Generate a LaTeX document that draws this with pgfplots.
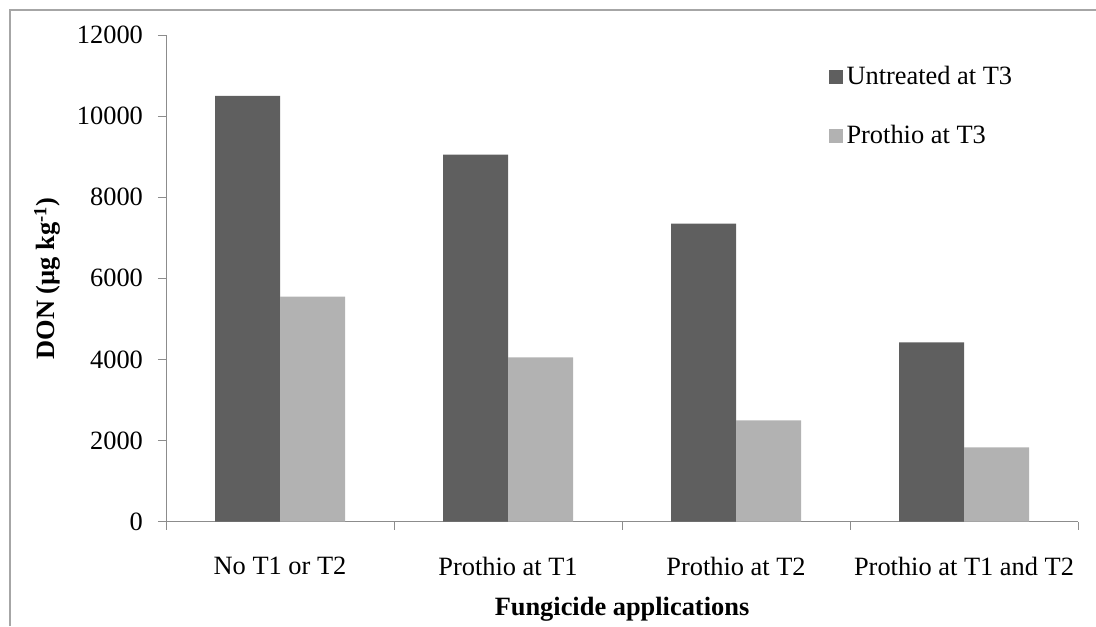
\documentclass[border=0pt]{standalone}
\usepackage{pgfplots}
\pgfplotsset{compat=1.18}
\usepackage{fontspec}
\setmainfont{Liberation Serif}
\definecolor{darkbar}{HTML}{5F5F5F}
\definecolor{lightbar}{HTML}{B2B2B2}
\definecolor{axisgray}{HTML}{8C8C8C}
\definecolor{framegray}{HTML}{A6A6A6}
\begin{document}
\begin{tikzpicture}
\useasboundingbox (0,0) rectangle (548pt,313pt);
% outer frame (cut off on right and bottom)
\draw[framegray, line width=1pt] (5pt,0pt) -- (5pt,308pt) -- (548pt,308pt);
\begin{axis}[
    at={(83pt,52.15pt)}, anchor=south west,
    scale only axis,
    width=456pt, height=243.35pt,
    xmin=-0.5, xmax=3.5,
    ymin=0, ymax=12000,
    axis x line*=bottom, axis y line*=left,
    axis line style={axisgray, -},
    tick style={axisgray},
    tick align=outside,
    xtick={0,1,2,3},
    xticklabels={No T1 or T2, Prothio at T1, Prothio at T2, Prothio at T1 and T2},
    major x tick style={draw=none},
    minor xtick={-0.5,0.5,1.5,2.5,3.5},
    minor tick length=4pt,
    major tick length=4pt,
    ytick={0,2000,...,12000},
    scaled y ticks=false,
    yticklabel style={/pgf/number format/1000 sep={}, xshift=-4pt},
    xticklabel style={yshift=-10pt},
    /pgf/number format/assume math mode=true,
    tick label style={font=\fontsize{13.2}{15}\selectfont},
    xlabel={\textbf{Fungicide applications}},
    xlabel style={at={(axis description cs:0.5,0)}, anchor=center, yshift=-44pt, font=\fontsize{13.2}{15}\selectfont},
    ylabel={\textbf{DON (µg kg\textsuperscript{-1})}},
    ylabel style={at={(axis description cs:-0.13,0.5)}, anchor=center, font=\fontsize{13.2}{15}\selectfont},
    legend style={at={(axis description cs:0.726,0.945)}, anchor=north west, draw=none, fill=none,
        font=\fontsize{13.2}{15}\selectfont, row sep=15pt, inner sep=0pt},
    legend cell align=left,
    legend image code/.code={\fill[#1] (0pt,-3.5pt) rectangle (7pt,3.5pt);},
]
\addplot[ybar, bar width=32.5pt, bar shift=-16.25pt, fill=darkbar, draw=none]
coordinates {(0,10500) (1,9050) (2,7350) (3,4420)};
\addlegendentry{Untreated at T3}
\addplot[ybar, bar width=32.5pt, bar shift=16.25pt, fill=lightbar, draw=none]
coordinates {(0,5550) (1,4050) (2,2500) (3,1830)};
\addlegendentry{Prothio at T3}
\end{axis}
\end{tikzpicture}
\end{document}
